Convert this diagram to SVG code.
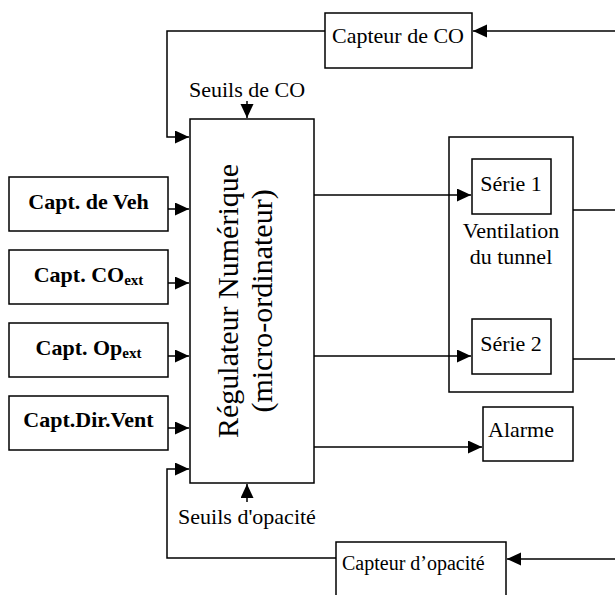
<svg xmlns="http://www.w3.org/2000/svg" width="615" height="595" viewBox="0 0 615 595" font-family="'Liberation Serif', 'Times New Roman', 'DejaVu Serif', serif">
<style>
.box{fill:#fff;stroke:#000;stroke-width:1.5}
.ln{fill:none;stroke:#000;stroke-width:1.5}
.arr{marker-end:url(#ah)}
text{font-family:'Liberation Serif','Times New Roman','DejaVu Serif',serif;fill:#000;font-size:22px}
.b{font-weight:bold}
.mid{text-anchor:middle}
</style>
<defs>
<marker id="ah" markerUnits="userSpaceOnUse" markerWidth="15" markerHeight="14" refX="14" refY="6.5" orient="auto">
<path d="M0,0 L14,6.5 L0,13 z" fill="#000"/>
</marker>
</defs>
<rect width="615" height="595" fill="#fff"/>
<g id="capteur-co">
<rect class="box" x="325" y="13" width="147" height="55"/>
<text class="mid" x="398" y="43">Capteur de CO</text>
</g>
<g id="seuils-co">
<text class="mid" x="247" y="97">Seuils de CO</text>
</g>
<g id="regulateur">
<rect class="box" x="190" y="119" width="124" height="364"/>
<text class="mid" style="font-size:30px" transform="translate(238,301) rotate(-90)">Régulateur Numérique</text>
<text class="mid" style="font-size:30px" transform="translate(272,301) rotate(-90)">(micro-ordinateur)</text>
</g>
<g id="capt-veh">
<rect class="box" x="9" y="177" width="159" height="54"/>
<text class="mid b" x="88.5" y="209">Capt. de Veh</text>
</g>
<g id="capt-co-ext">
<rect class="box" x="9" y="250" width="159" height="54"/>
<text class="mid b" x="88.5" y="282">Capt. CO<tspan style="font-size:15px" dy="3">ext</tspan></text>
</g>
<g id="capt-op-ext">
<rect class="box" x="9" y="323" width="159" height="54"/>
<text class="mid b" x="88.5" y="355">Capt. Op<tspan style="font-size:15px" dy="3">ext</tspan></text>
</g>
<g id="capt-dir-vent">
<rect class="box" x="9" y="396" width="159" height="54"/>
<text class="mid b" x="88.5" y="427">Capt.Dir.Vent</text>
</g>
<g id="ventilation">
<rect class="box" x="449" y="137" width="124" height="255"/>
<text class="mid" x="511" y="238">Ventilation</text>
<text class="mid" x="511" y="264">du tunnel</text>
</g>
<g id="serie1">
<rect class="box" x="472" y="159" width="79" height="55"/>
<text class="mid" x="511" y="191">Série 1</text>
</g>
<g id="serie2">
<rect class="box" x="472" y="319" width="79" height="55"/>
<text class="mid" x="511" y="351">Série 2</text>
</g>
<g id="alarme">
<rect class="box" x="483" y="407" width="90" height="54"/>
<text x="488" y="437">Alarme</text>
</g>
<g id="seuils-opacite">
<text class="mid" x="247" y="524">Seuils d'opacité</text>
</g>
<g id="capteur-opacite">
<rect class="box" x="336" y="542" width="170" height="70"/>
<text x="342" y="570" style="font-size:20px">Capteur d’opacité</text>
</g>
<g id="connectors">
<path class="ln arr" d="M615,31 L473,31"/>
<path class="ln arr" d="M325,31 L167,31 L167,137 L189,137"/>
<path class="ln arr" d="M247,101 L247,118"/>
<path class="ln arr" d="M168,209 L189,209"/>
<path class="ln arr" d="M168,283 L189,283"/>
<path class="ln arr" d="M168,356 L189,356"/>
<path class="ln arr" d="M168,428 L189,428"/>
<path class="ln arr" d="M336,558 L167,558 L167,469 L189,469"/>
<path class="ln arr" d="M247,502 L247,484"/>
<path class="ln arr" d="M314,195 L471,195"/>
<path class="ln arr" d="M314,356 L471,356"/>
<path class="ln arr" d="M314,447 L482,447"/>
<path class="ln" d="M573,210 L615,210"/>
<path class="ln" d="M573,359 L615,359"/>
<path class="ln arr" d="M615,559 L507,559"/>
</g>
</svg>
